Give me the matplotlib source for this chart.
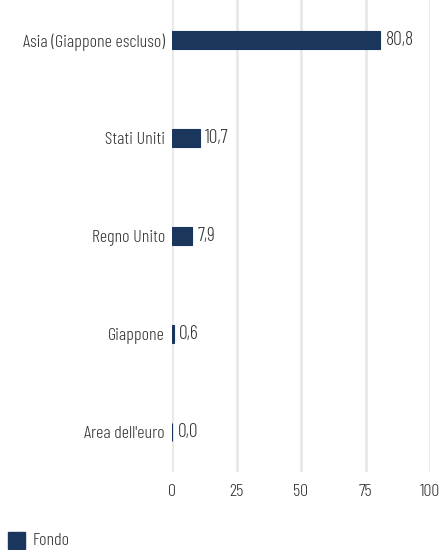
import matplotlib
matplotlib.use("Agg")
import matplotlib.pyplot as plt

categories = ["Asia (Giappone escluso)", "Stati Uniti", "Regno Unito", "Giappone", "Area dell'euro"]
values = [80.8, 10.7, 7.9, 0.6, 0.0]
xticks = [0, 25, 50, 75, 100]
series_name = "Fondo"

plt.rcParams['font.family'] = ["Barlow Condensed", "DejaVu Sans"]
plt.rcParams['font.weight'] = 300
color = "#1b365d"
text_color = "#333333"
fs = 13

fig = plt.figure(figsize=(4.41, 5.5), dpi=100)
ax = fig.add_axes([172/441, 1-472/550, (430-172)/441, 472/550])
ypos = list(range(len(categories)))
ax.barh(ypos, values, height=0.18, color=color, edgecolor=color, linewidth=0.8, zorder=3)
for y, v in zip(ypos, values):
    ax.annotate(f"{v:.1f}".replace(".", ","), xy=(v, y), xytext=(4, 0), textcoords="offset points",
                va="center", ha="left", fontsize=14, color=text_color, zorder=4)
ax.set_ylim(4.408, -0.408)
ax.set_xlim(0, 100)
ax.set_xticks(xticks)
ax.set_xticklabels([str(t) for t in xticks], fontsize=fs, color=text_color)
ax.set_yticks(ypos)
ax.set_yticklabels(categories, fontsize=fs, color=text_color)
ax.tick_params(axis='both', length=0)
ax.tick_params(axis='x', pad=9)
ax.tick_params(axis='y', pad=5)
for s in ax.spines.values():
    s.set_visible(False)
ax.grid(axis='x', color="#e8e8e8", linewidth=2, zorder=0)
ax.set_axisbelow(True)

fig.patches.append(plt.Rectangle((8/441, 1-549/550), 17/441, 17/550, transform=fig.transFigure,
                                 color=color, figure=fig))
fig.text(33/441, 1-541/550, series_name, fontsize=fs, color=text_color, va="center", ha="left")

fig.savefig("out.png", dpi=100)
